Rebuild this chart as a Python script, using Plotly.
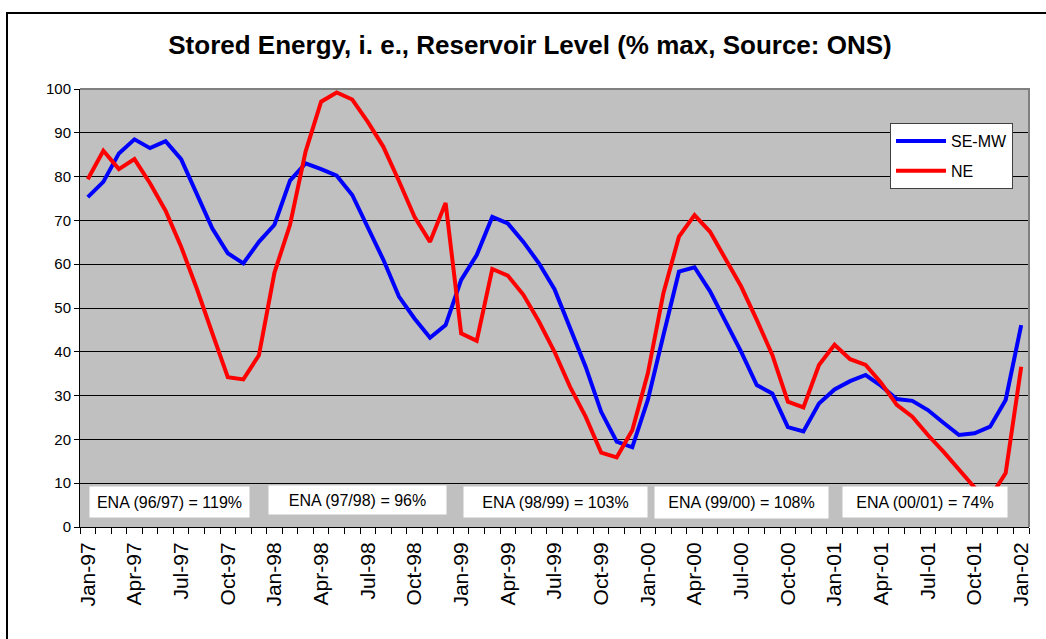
import plotly.graph_objects as go

# ---- data (monthly, Jan-97 .. Jan-02) ----
se_mw = [75.3, 78.8, 85.3, 88.5, 86.5, 88.1, 84.0, 76.1, 68.2, 62.5, 60.2, 65.1,
         69.0, 79.1, 83.0, 81.7, 80.2, 75.8, 68.2, 61.0, 52.6, 47.6, 43.2, 46.1,
         56.4, 62.1, 70.8, 69.3, 65.1, 60.2, 54.3, 45.4, 36.6, 26.3, 19.5, 18.2,
         29.0, 43.8, 58.3, 59.3, 53.8, 46.9, 40.0, 32.4, 30.5, 22.8, 21.8, 28.2,
         31.4, 33.3, 34.7, 32.2, 29.2, 28.8, 26.7, 23.8, 21.0, 21.4, 22.9, 29.0,
         46.1]
ne = [79.4, 85.9, 81.7, 84.0, 78.5, 72.2, 64.0, 54.5, 44.3, 34.2, 33.7, 39.2,
      58.1, 69.0, 85.7, 97.1, 99.2, 97.6, 92.5, 86.8, 79.0, 70.8, 65.1, 74.0,
      44.2, 42.5, 58.9, 57.4, 53.0, 46.9, 40.0, 32.0, 25.2, 17.0, 15.9, 22.1,
      35.1, 53.4, 66.3, 71.2, 67.4, 61.1, 54.9, 47.3, 39.3, 28.6, 27.3, 37.0,
      41.6, 38.3, 37.0, 32.9, 27.9, 25.2, 21.0, 17.2, 13.0, 9.0, 6.7, 12.3,
      36.6]
tick_labels = ["Jan-97", "Apr-97", "Jul-97", "Oct-97", "Jan-98", "Apr-98", "Jul-98",
               "Oct-98", "Jan-99", "Apr-99", "Jul-99", "Oct-99", "Jan-00", "Apr-00",
               "Jul-00", "Oct-00", "Jan-01", "Apr-01", "Jul-01", "Oct-01", "Jan-02"]
ena_labels = ["ENA (96/97) = 119%", "ENA (97/98) = 96%", "ENA (98/99) = 103%",
              "ENA (99/00) = 108%", "ENA (00/01) = 74%"]

idx = list(range(len(se_mw)))
FONT = "Arial, Liberation Sans, sans-serif"

fig = go.Figure()
fig.add_trace(go.Scatter(x=idx, y=se_mw, mode="lines", name="SE-MW", legendgroup="a",
                         line=dict(color="#0000FF", width=4)))
fig.add_trace(go.Scatter(x=idx, y=ne, mode="lines", name="NE", legendgroup="b",
                         line=dict(color="#FF0000", width=4)))

# plot-area geometry in pixels (for placing boxes)
L, R, T, B = 80, 1029, 89, 527
W, H = R - L, B - T

def px(xp):
    return (xp - L) / W

def py(yp):
    return (B - yp) / H

# ENA boxes: (center x, center y, width, height) in pixels
ena_boxes = [(169.5, 502, 159, 30), (357.5, 500, 177, 28), (555.5, 502, 183, 30),
             (741.5, 502.5, 173, 31), (925, 502, 164, 30)]
annotations = []
for txt, (cx, cy, bw, bh) in zip(ena_labels, ena_boxes):
    annotations.append(dict(text=txt, xref="paper", yref="paper", x=px(cx), y=py(cy),
                            xanchor="center", yanchor="middle", showarrow=False,
                            bgcolor="white", width=bw, height=bh, borderpad=0,
                            align="center", font=dict(family=FONT, size=16, color="black")))

shapes = [
    # plot-area border top/right (gray)
    dict(type="path", path="M 0,1 L 1,1 L 1,0", xref="paper", yref="paper",
         line=dict(color="#808080", width=2), layer="above"),
    # outer chart frame
    dict(type="rect", xref="paper", yref="paper", x0=px(7), x1=px(1060), y0=py(660), y1=py(13),
         line=dict(color="black", width=2), fillcolor="rgba(0,0,0,0)", layer="above"),
]

fig.update_layout(
    width=1046, height=639,
    margin=dict(l=L, r=1046 - R, t=T, b=639 - B),
    paper_bgcolor="white", plot_bgcolor="#C0C0C0",
    font=dict(family=FONT, color="black"),
    title=dict(text="<b>Stored Energy, i. e., Reservoir Level (% max, Source: ONS)</b>",
               xref="container", yref="container", x=530 / 1046, y=1 - 45 / 639,
               xanchor="center", yanchor="middle", font=dict(family=FONT, size=26, color="black")),
    xaxis=dict(range=[-0.5, len(se_mw) - 0.5], tickmode="array",
               tickvals=idx[::3], ticktext=tick_labels, tickangle=-90,
               tickfont=dict(family=FONT, size=21, color="black"),
               ticks="outside", ticklen=6, tickcolor="rgba(0,0,0,0)",
               showgrid=False, zeroline=False, showline=True, linecolor="black", linewidth=1,
               minor=dict(tickmode="array", tickvals=[i - 0.5 for i in range(len(se_mw) + 1)],
                          ticks="outside", ticklen=6, tickcolor="black", tickwidth=1,
                          showgrid=False)),
    yaxis=dict(range=[0, 100], tick0=0, dtick=10, showgrid=True, gridcolor="black", gridwidth=1,
               ticks="outside", ticklen=5, tickcolor="black", zeroline=False,
               showline=True, linecolor="black", linewidth=1,
               tickfont=dict(family=FONT, size=15, color="black")),
    legend=dict(x=px(890), y=py(123), xanchor="left", yanchor="top", bgcolor="white",
                bordercolor="#404040", borderwidth=1, font=dict(family=FONT, size=16, color="black"),
                traceorder="grouped", tracegroupgap=6, itemwidth=50),
    annotations=annotations,
    shapes=shapes,
)

fig.write_html("out.html", config={"displayModeBar": False},
               post_script="document.body.style.margin='0px';")
